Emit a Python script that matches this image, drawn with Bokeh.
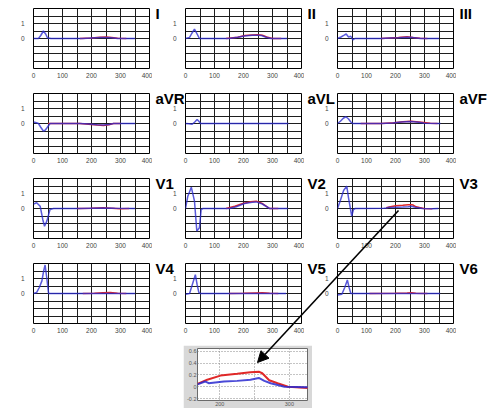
from bokeh.plotting import figure
from bokeh.models import GridBox, Row, Column, Spacer, Range1d, FixedTicker, Arrow, NormalHead
from bokeh.embed import file_html
from bokeh.resources import INLINE
from bokeh.core.properties import value

# ---------------- data ----------------
LEADS = ["I", "II", "III", "aVR", "aVL", "aVF", "V1", "V2", "V3", "V4", "V5", "V6"]

X_TICKS = [0, 100, 200, 300, 400]
X_GRID = [0, 50, 100, 150, 200, 250, 300, 350, 400]
Y_TICKS = [0, 1]
Y_GRID = [-2, -1.5, -1, -0.5, 0, 0.5, 1, 1.5, 2]

# V3 ST-T segment (also shown magnified in the inset)
V3_ST_X_BLUE = [168, 179, 184, 206, 225, 244, 256, 264, 273, 293, 327]
V3_ST_Y_BLUE = [0.04, 0.09, 0.06, 0.09, 0.10, 0.12, 0.15, 0.10, 0.06, 0.0, -0.01]
V3_ST_X_RED = [168, 182, 201, 225, 244, 256, 261, 271, 283, 298, 327]
V3_ST_Y_RED = [0.05, 0.12, 0.19, 0.22, 0.245, 0.257, 0.23, 0.11, 0.06, 0.0, -0.02]

BLUE_X = {
    "I":   [0, 17, 25, 34, 42, 48, 60, 170, 200, 230, 250, 270, 290, 350],
    "II":  [0, 14, 22, 31, 40, 48, 60, 150, 180, 203, 230, 250, 262, 278, 295, 350],
    "III": [0, 12, 23, 30, 38, 46, 53, 60, 150, 180, 210, 240, 260, 285, 350],
    "aVR": [0, 10, 17, 25, 34, 40, 46, 57, 70, 160, 190, 220, 241, 260, 276, 350],
    "aVL": [0, 12, 23, 32, 40, 46, 52, 60, 355],
    "aVF": [0, 10, 20, 29, 38, 46, 52, 60, 150, 190, 220, 253, 280, 300, 355],
    "V1":  [0, 11, 23, 32, 38, 46, 57, 69, 160, 200, 240, 280, 350],
    "V2":  [0, 8, 20, 31, 39, 48, 54, 60, 152, 175, 203, 230, 244, 265, 290, 353],
    "V3":  [0, 9, 21, 32, 38, 49, 55, 61, 160] + V3_ST_X_BLUE + [348],
    "V4":  [0, 11, 20, 29, 35, 40, 46, 52, 60, 350],
    "V5":  [0, 14, 22, 34, 40, 46, 51, 60, 347],
    "V6":  [0, 15, 25, 34, 40, 46, 60, 354],
}
BLUE_Y = {
    "I":   [0, 0, 0.2, 0.5, 0.3, 0.05, 0, 0, 0.03, 0.06, 0.07, 0.05, 0, 0],
    "II":  [0, 0.07, 0.35, 0.62, 0.3, 0, 0, 0, 0.08, 0.17, 0.21, 0.22, 0.2, 0.08, 0, 0],
    "III": [0, 0.1, 0.22, 0.3, 0.1, 0.15, -0.1, 0, 0, 0.03, 0.05, 0.08, 0.06, 0, 0],
    "aVR": [0.1, 0.05, 0, -0.25, -0.5, -0.45, -0.3, 0, 0, 0, -0.04, -0.08, -0.1, -0.06, 0, 0],
    "aVL": [0, -0.02, -0.05, 0.1, 0.27, 0.15, 0, 0, 0],
    "aVF": [0, 0.15, 0.35, 0.45, 0.3, 0.1, 0, 0, 0, 0.04, 0.1, 0.13, 0.08, 0.02, 0],
    "V1":  [0.3, 0.38, 0.15, -0.73, -1.18, -0.84, -0.07, 0, 0, 0.02, 0.03, 0.01, 0],
    "V2":  [0, 0.82, 1.42, 0.49, -1.5, -1.29, -0.07, 0, 0, 0.12, 0.33, 0.42, 0.44, 0.3, 0, 0],
    "V3":  [0, 0.49, 1.2, 1.49, 0.71, -0.5, -0.07, 0, 0.02] + V3_ST_Y_BLUE + [0],
    "V4":  [0, 0.07, 0.4, 0.84, 1.5, 1.9, 1.0, 0, 0, 0],
    "V5":  [-0.05, 0, 0.5, 1.25, 0.6, 0.07, 0, 0, 0],
    "V6":  [-0.1, -0.05, 0.4, 0.9, 0.4, 0, 0, 0],
}
RED_X = {
    "I":   [160, 200, 230, 250, 270, 290, 320],
    "II":  [140, 180, 205, 230, 250, 265, 280, 300, 330],
    "III": [150, 180, 210, 240, 260, 285, 310],
    "aVR": [50, 90, 160, 190, 220, 241, 260, 276, 300],
    "aVL": [],
    "aVF": [80, 150, 195, 225, 253, 290, 320, 345],
    "V1":  [150, 200, 240, 270, 300, 330],
    "V2":  [140, 170, 198, 225, 244, 265, 290, 320],
    "V3":  V3_ST_X_RED,
    "V4":  [170, 210, 240, 265, 290, 320],
    "V5":  [150, 200, 240, 265, 290, 320],
    "V6":  [110, 200, 240, 255, 270, 310],
}
RED_Y = {
    "I":   [0, 0.04, 0.08, 0.1, 0.07, 0.02, 0],
    "II":  [0, 0.09, 0.2, 0.24, 0.25, 0.22, 0.1, 0, 0],
    "III": [0, 0.04, 0.06, 0.12, 0.07, 0.01, 0],
    "aVR": [0, 0, 0, -0.05, -0.1, -0.13, -0.08, 0, 0],
    "aVL": [],
    "aVF": [0, 0, 0.05, 0.12, 0.15, 0.08, 0.02, 0],
    "V1":  [0, 0.02, 0.05, 0.02, -0.02, 0],
    "V2":  [0, 0.15, 0.33, 0.45, 0.49, 0.33, 0, 0],
    "V3":  V3_ST_Y_RED,
    "V4":  [0, 0.02, 0.05, 0.06, 0.02, 0],
    "V5":  [0, 0.02, 0.04, 0.05, 0.02, 0],
    "V6":  [0, 0.01, 0.03, 0.05, 0.02, 0],
}

INSET_X_TICKS = [200, 300]
INSET_X_GRID = [150, 200, 250, 300]
INSET_Y_TICKS = [-0.2, 0, 0.2, 0.4, 0.6]

# ---------------- style / layout ----------------
BLUE = "#2a2ad0"
RED = "#e02828"
FONT = "Liberation Sans"
PW, PH = 152, 85               # panel cell size
FW, FH = 116, 60               # panel frame size
FL, FT = 33, 8                 # frame offset inside a cell
NCOL, NROW = 3, 4
TOTAL_W, TOTAL_H = 494, 408
INSET_H = TOTAL_H - NROW * PH


def panel(lead):
    p = figure(width=PW, height=PH, x_range=Range1d(0, 400), y_range=Range1d(-2, 2),
               output_backend="svg", toolbar_location=None,
               min_border_left=FL, min_border_right=PW - FL - FW,
               min_border_top=FT, min_border_bottom=PH - FT - FH,
               background_fill_color="white", border_fill_color="white",
               outline_line_color="black", outline_line_width=1)
    for ax, tk in ((p.xaxis, X_TICKS), (p.yaxis, Y_TICKS)):
        ax.ticker = FixedTicker(ticks=tk)
        ax.axis_line_color = None
        ax.major_tick_line_color = None
        ax.minor_tick_line_color = None
        ax.major_tick_out = 0
        ax.major_tick_in = 0
        ax.major_label_text_font = FONT
        ax.major_label_text_font_size = "6.5px"
        ax.major_label_text_color = "#444444"
    p.xaxis.major_label_standoff = 4
    p.yaxis.major_label_standoff = 9
    p.xgrid.ticker = FixedTicker(ticks=X_GRID)
    p.ygrid.ticker = FixedTicker(ticks=Y_GRID)
    for g in (p.xgrid, p.ygrid):
        g.grid_line_color = "#1e1e1e"
        g.grid_line_width = 1
        g.grid_line_alpha = 1
    if RED_X[lead]:
        p.line(RED_X[lead], RED_Y[lead], line_color=RED, line_width=1.5)
    p.line(BLUE_X[lead], BLUE_Y[lead], line_color=BLUE, line_width=1.5, line_alpha=0.78)
    return p


children = []
for i, lead in enumerate(LEADS):
    r, c = divmod(i, NCOL)
    children.append((panel(lead), r, c))
children.append((Spacer(width=TOTAL_W - NCOL * PW, height=PH), 0, NCOL))

# ---- inset (magnified V3 ST segment)
INS_LEFT, INS_TOP, INS_W = 183, 5, 129
ins = figure(width=INS_W, height=INSET_H - INS_TOP, x_range=Range1d(168, 326),
             y_range=Range1d(-0.234, 0.651),
             output_backend="svg", toolbar_location=None,
             min_border_left=14, min_border_right=5, min_border_top=3, min_border_bottom=8,
             background_fill_color="white", border_fill_color="#d8d8d8",
             outline_line_color="#6a6a6a", outline_line_width=1)
ins.xaxis.ticker = FixedTicker(ticks=INSET_X_TICKS)
ins.yaxis.ticker = FixedTicker(ticks=INSET_Y_TICKS)
ins.xgrid.ticker = FixedTicker(ticks=INSET_X_GRID)
ins.yaxis.major_label_overrides = {-0.2: "-0.2", 0: "0", 0.2: "0.2", 0.4: "0.4", 0.6: "0.6"}
for ax in (ins.xaxis, ins.yaxis):
    ax.axis_line_color = None
    ax.major_tick_line_color = None
    ax.minor_tick_line_color = None
    ax.major_tick_out = 0
    ax.major_tick_in = 0
    ax.major_label_standoff = 1
    ax.major_label_text_font = FONT
    ax.major_label_text_font_size = "5.5px"
    ax.major_label_text_color = "#555555"
for g in (ins.xgrid, ins.ygrid):
    g.grid_line_color = "#888888"
    g.grid_line_dash = "1 2"
    g.grid_line_width = 1
ins.line(V3_ST_X_RED, V3_ST_Y_RED, line_color=RED, line_width=2)
ins.line(V3_ST_X_BLUE, V3_ST_Y_BLUE, line_color=BLUE, line_width=2, line_alpha=0.85)
inset_row = Row(children=[Spacer(width=INS_LEFT, height=INSET_H),
                          Column(children=[Spacer(width=INS_W, height=INS_TOP), ins])])
children.append((inset_row, NROW, 0, 1, NCOL + 1))

# ---- transparent overlay: lead names and the arrow.
# Its frame is aligned by the grid with the frames of the first panel (left FL, top FT),
# so its ranges are set so that one data unit equals one page pixel.
ov = figure(width=TOTAL_W, height=TOTAL_H, x_range=Range1d(FL, TOTAL_W), y_range=Range1d(TOTAL_H, FT),
            output_backend="svg", toolbar_location=None, x_axis_type=None, y_axis_type=None,
            min_border_left=FL, min_border_top=FT, min_border_right=0, min_border_bottom=0,
            background_fill_color=None, border_fill_color=None,
            outline_line_color=None)
lab_x = [(i % NCOL) * PW + FL + FW + 6 for i in range(len(LEADS))]
lab_y = [(i // NCOL) * PH + FT - 4 for i in range(len(LEADS))]
ov.text(x=lab_x, y=lab_y, text=LEADS, text_font=value(FONT), text_font_style="bold",
        text_font_size="15px", text_baseline="top", text_align="left", text_color="black")
ov.add_layout(Arrow(end=NormalHead(size=11, fill_color="black", line_color="black"),
                    x_start=398, y_start=210, x_end=257, y_end=362,
                    line_color="black", line_width=1.6))
children.append((ov, 0, 0, NROW + 1, NCOL + 1))

layout = GridBox(children=children, spacing=0)

open("out.html", "w").write(file_html(layout, INLINE))
